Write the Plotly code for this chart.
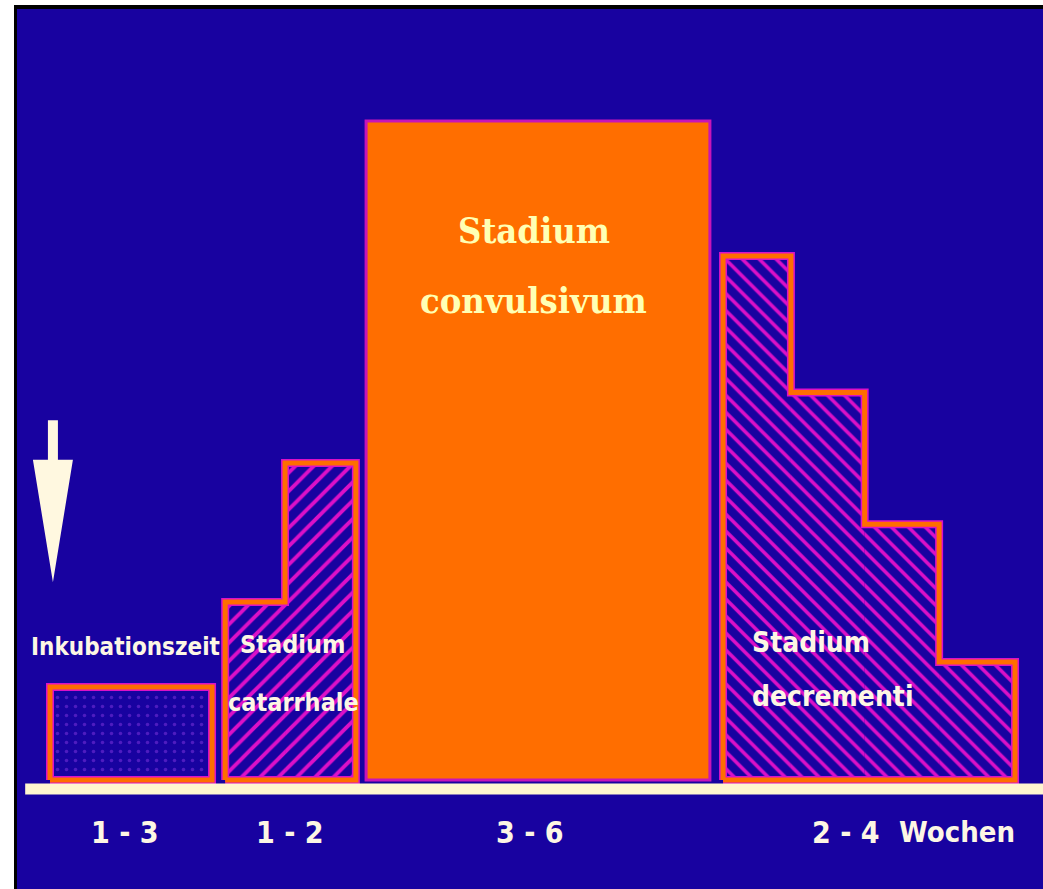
import plotly.graph_objects as go

# Course of pertussis: stages over time (relative symptom intensity)
inkub_edges = [0.0, 2.22]
inkub_heights = [14.1]
catarrh_edges = [2.40, 3.22, 4.19]
catarrh_heights = [27.0, 48.1]
convuls_edges = [4.33, 9.04]
convuls_heights = [100.0]
decrem_edges = [9.22, 10.15, 11.16, 12.18, 13.22]
decrem_heights = [79.5, 58.8, 38.8, 17.9]

duration_labels = ["1 - 3", "1 - 2", "3 - 6", "2 - 4"]
unit_label = "Wochen"

BLUE = "#1802a0"
ORANGE = "#ff6e00"
MAGENTA = "#dc10c8"
CREAM = "#fdf6e4"
YELLOW = "#ffffb4"
FONT = "DejaVu Sans Condensed, DejaVu Sans, sans-serif"
SERIF = "DejaVu Serif Condensed, DejaVu Serif, serif"

X_RANGE = [-0.452, 13.603]
Y_RANGE = [-16.54, 117.0]


def mids(edges):
    return [(a + b) / 2 for a, b in zip(edges[:-1], edges[1:])]


def widths(edges):
    return [b - a for a, b in zip(edges[:-1], edges[1:])]


def outline(edges, heights):
    xs, ys = [edges[0]], [0]
    for i, h in enumerate(heights):
        xs += [edges[i], edges[i + 1]]
        ys += [h, h]
    xs += [edges[-1], edges[0]]
    ys += [0, 0]
    return xs, ys


fig = go.Figure()

patterned = [
    (inkub_edges, inkub_heights, dict(shape=".", fgcolor="#4e1cc0", bgcolor=BLUE,
                                      size=9, solidity=0.12, fillmode="replace")),
    (catarrh_edges, catarrh_heights, dict(shape="/", fgcolor=MAGENTA, bgcolor=BLUE,
                                          size=13, solidity=0.3, fillmode="replace")),
    (decrem_edges, decrem_heights, dict(shape="\\", fgcolor=MAGENTA, bgcolor=BLUE,
                                        size=12, solidity=0.3, fillmode="replace")),
]

for edges, heights, pattern in patterned:
    fig.add_trace(go.Bar(
        x=mids(edges), y=heights, width=widths(edges), base=0,
        marker=dict(color=BLUE, line=dict(width=0), pattern=pattern),
        showlegend=False, hoverinfo="skip",
    ))

# solid convulsive stage
fig.add_trace(go.Bar(
    x=mids(convuls_edges), y=convuls_heights, width=widths(convuls_edges), base=0,
    marker=dict(color=ORANGE, line=dict(width=3, color="#c814b8")),
    showlegend=False, hoverinfo="skip",
))

# stepped outlines of the patterned stages
for edges, heights, _ in patterned:
    xs, ys = outline(edges, heights)
    fig.add_trace(go.Scatter(x=xs, y=ys, mode="lines",
                             line=dict(color=MAGENTA, width=8),
                             showlegend=False, hoverinfo="skip"))
    fig.add_trace(go.Scatter(x=xs, y=ys, mode="lines",
                             line=dict(color=ORANGE, width=5),
                             showlegend=False, hoverinfo="skip"))

# time axis baseline
fig.add_shape(type="line", xref="x", yref="y", x0=-0.34, x1=X_RANGE[1], y0=-1.37, y1=-1.37,
              line=dict(color="#fff6d0", width=11), layer="above")

# arrow marking the moment of infection
ax = 0.04
sw, hw = 0.0685, 0.274
arrow_path = (f"M {ax - sw},54.6 L {ax + sw},54.6 L {ax + sw},48.6 L {ax + hw},48.6 "
              f"L {ax},30.0 L {ax - hw},48.6 L {ax - sw},48.6 Z")
fig.add_shape(type="path", xref="x", yref="y", path=arrow_path,
              fillcolor="#fff8e0", line=dict(width=0), layer="above")

# frame lines at left and top
fig.add_shape(type="rect", xref="paper", yref="paper", x0=-3 / 1026, x1=0,
              y0=0, y1=1 + 4 / 880, fillcolor="black", line=dict(width=0))
fig.add_shape(type="rect", xref="paper", yref="paper", x0=-3 / 1026, x1=1,
              y0=1, y1=1 + 4 / 880, fillcolor="black", line=dict(width=0))


def label(text, x, y, size, color=CREAM, xanchor="center", family=FONT):
    fig.add_annotation(text=f"<b>{text}</b>", x=x, y=y, xref="x", yref="y",
                       showarrow=False, xanchor=xanchor, yanchor="middle",
                       font=dict(family=family, size=size, color=color))


label("Stadium", 6.63, 83.5, 36, YELLOW, family=SERIF)
label("convulsivum", 6.63, 72.8, 36, YELLOW, family=SERIF)
label("Inkubationszeit", 1.03, 20.2, 24)
label("Stadium", 3.32, 20.5, 25)
label("catarrhale", 3.33, 11.7, 25)
label("Stadium", 9.59, 20.8, 28, xanchor="left")
label("decrementi", 9.59, 12.6, 28, xanchor="left")

duration_x = [1.03, 3.29, 6.58, 10.9]
for txt, xv in zip(duration_labels, duration_x):
    label(txt, xv, -7.9, 30)
label(unit_label, 12.42, -7.9, 29)

fig.update_layout(
    width=1043, height=889,
    margin=dict(l=17, r=0, t=9, b=0, pad=0),
    paper_bgcolor="white", plot_bgcolor=BLUE,
    barmode="overlay",
    xaxis=dict(range=X_RANGE, visible=False, fixedrange=True),
    yaxis=dict(range=Y_RANGE, visible=False, fixedrange=True),
)

fig.write_html("out.html")
